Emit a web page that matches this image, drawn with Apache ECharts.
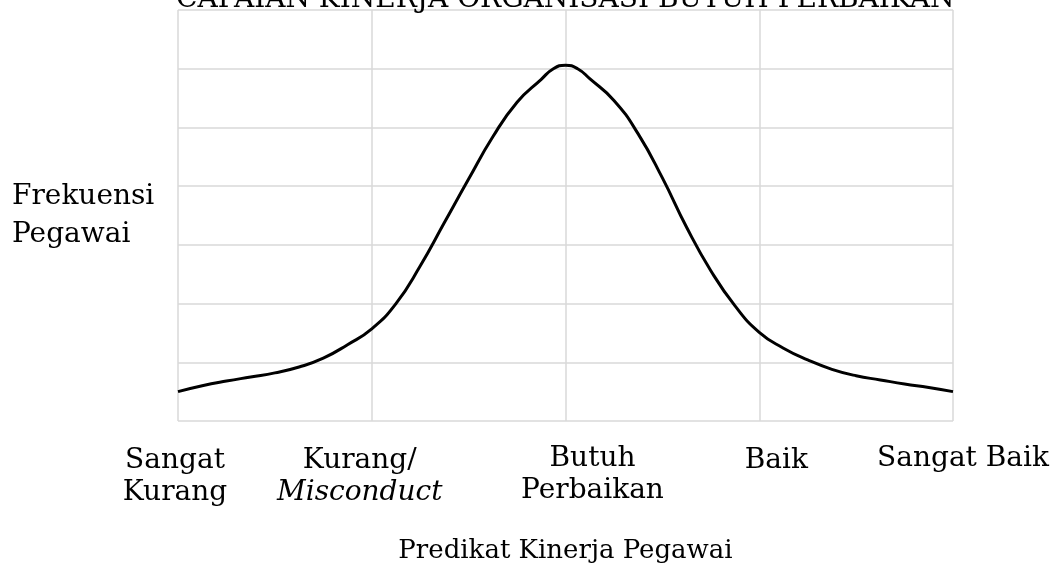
<!DOCTYPE html>
<html>
<head>
    <meta charset="utf-8">
    <title>Predikat Kinerja Pegawai</title>
    <style>
        html, body { margin: 0; padding: 0; background: #fff; }
    </style>
</head>
<body>
    <div id="main" style="width:1060px;height:570px"></div>
    <script src="https://cdn.jsdelivr.net/npm/echarts@6/dist/echarts.min.js"></script>
    <script type="text/javascript">

        const TITLE = 'CAPAIAN KINERJA ORGANISASI BUTUH PERBAIKAN';
        const X_NAME = 'Predikat Kinerja Pegawai';
        const Y_NAME = 'Frekuensi\nPegawai';

        // tick labels, one per predikat (second line may be empty)
        const LABEL_TOP = ['Sangat', 'Kurang/', 'Butuh', 'Baik', 'Sangat Baik'];
        const LABEL_BOTTOM = ['Kurang', 'Misconduct', 'Perbaikan', '', ''];

        // curve (x: predikat position 0..4, y: frekuensi)
        const CURVE_X = [0, 0.125, 0.25, 0.375, 0.5, 0.625, 0.75, 0.875, 1, 1.125, 1.25, 1.375, 1.5, 1.625, 1.75, 1.875, 1.9375, 2,
                         2.0625, 2.125, 2.25, 2.375, 2.5, 2.625, 2.75, 2.875, 3, 3.125, 3.25, 3.375, 3.5, 3.625, 3.75, 3.875, 4];
        const CURVE_Y = [0.50, 0.60, 0.68, 0.75, 0.82, 0.92, 1.07, 1.30, 1.57, 2.00, 2.64, 3.38, 4.12, 4.84, 5.43, 5.82, 6.00, 6.06,
                         6.00, 5.83, 5.46, 4.89, 4.14, 3.30, 2.56, 1.96, 1.51, 1.24, 1.04, 0.88, 0.77, 0.70, 0.63, 0.57, 0.50];

        const FONT = 'DejaVu Serif';
        const FONT_SIZE = 28;
        const GRID_COLOR = '#d9d9d9';

        // horizontal nudges of each label (labels were not centred on the ticks)
        const LABEL_SHIFT = [-3, -12, 27, 17, 10];
        const LABEL_DROP = [4, 3, 0, 3, 0];

        function labelPadding(i) {
            let d = LABEL_SHIFT[i] * 2;
            return d >= 0 ? [LABEL_DROP[i], 0, 0, d] : [LABEL_DROP[i], -d, 0, 0];
        }

        function buildRich() {
            let rich = {};
            for (let i = 0; i < LABEL_TOP.length; i++) {
                rich['t' + i] = {
                    fontFamily: FONT, fontSize: FONT_SIZE, color: '#000', lineHeight: 32,
                    padding: labelPadding(i)
                };
                rich['b' + i] = {
                    fontFamily: FONT, fontSize: FONT_SIZE, color: '#000', lineHeight: 32,
                    padding: labelPadding(i),
                    fontStyle: i === 1 ? 'italic' : 'normal'
                };
            }
            return rich;
        }

        let myChart = echarts.init(document.getElementById('main'), null, {renderer: 'canvas'});

        let curve = CURVE_X.map(function (x, i) { return [x, CURVE_Y[i]]; });

        let option = {
            animation: false,
            backgroundColor: '#fff',
            title: {
                text: TITLE,
                left: 176,
                top: -14,
                padding: 0,
                textStyle: {
                    fontFamily: FONT,
                    fontSize: FONT_SIZE,
                    fontWeight: 'normal',
                    color: '#000'
                }
            },
            grid: {
                left: 178,
                right: 107,
                top: 10,
                bottom: 149
            },
            xAxis: {
                type: 'value',
                min: 0,
                max: 4,
                interval: 1,
                name: X_NAME,
                nameLocation: 'middle',
                nameGap: 117,
                nameTextStyle: {fontFamily: FONT, fontSize: 26, color: '#000'},
                axisLine: {show: false},
                axisTick: {show: false},
                splitLine: {show: true, lineStyle: {color: GRID_COLOR, width: 1.5}},
                axisLabel: {
                    margin: 22,
                    hideOverlap: false,
                    formatter: function (v) {
                        let i = Math.round(v);
                        let s = '{t' + i + '|' + LABEL_TOP[i] + '}';
                        if (LABEL_BOTTOM[i]) {
                            s += '\n{b' + i + '|' + LABEL_BOTTOM[i] + '}';
                        }
                        return s;
                    },
                    rich: buildRich()
                }
            },
            yAxis: {
                type: 'value',
                min: 0,
                max: 7,
                interval: 1,
                name: Y_NAME,
                nameLocation: 'middle',
                nameRotate: 0,
                nameGap: 166,
                nameTextStyle: {
                    fontFamily: FONT, fontSize: FONT_SIZE, color: '#000',
                    align: 'left', verticalAlign: 'middle', lineHeight: 38,
                    padding: [6, 0, 0, 0]
                },
                axisLine: {show: false},
                axisTick: {show: false},
                axisLabel: {show: false},
                splitLine: {show: true, lineStyle: {color: GRID_COLOR, width: 1.5}}
            },
            series: [
                {
                    type: 'line',
                    data: curve,
                    smooth: 0.5,
                    showSymbol: false,
                    symbol: 'none',
                    lineStyle: {color: '#000', width: 3}
                }
            ]
        };

        myChart.setOption(option);

    </script>
</body>
</html>
